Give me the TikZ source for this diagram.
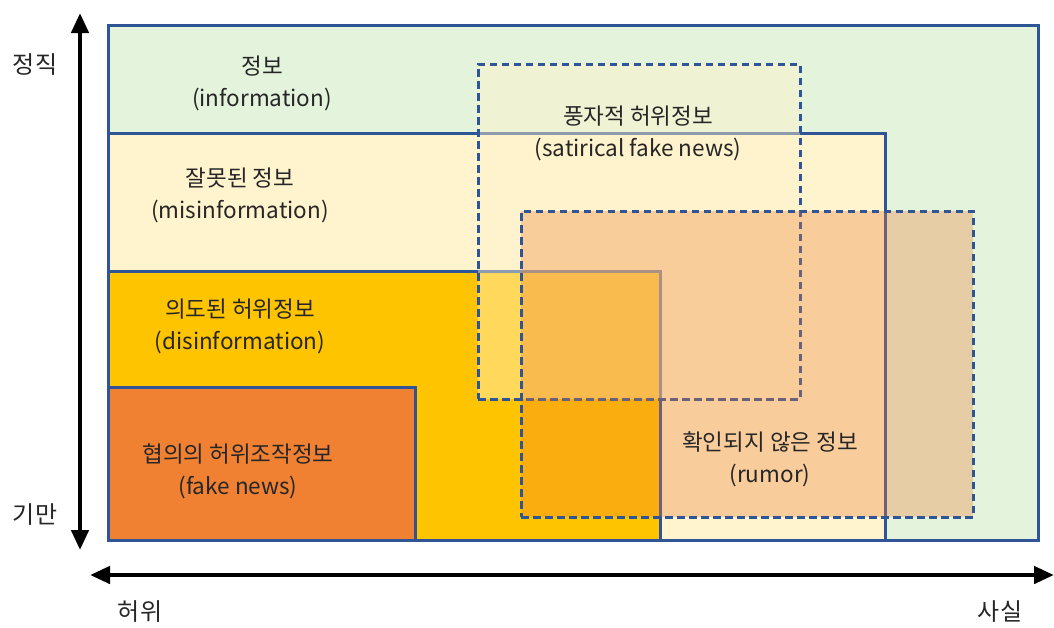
\documentclass[tikz,border=0pt]{standalone}
\usepackage{fontspec}
\setmainfont{Noto Sans CJK KR}
\usetikzlibrary{arrows.meta}
\definecolor{bordblue}{HTML}{2F5597}
\definecolor{infogreen}{HTML}{E4F3DC}
\definecolor{misyellow}{HTML}{FFF4CE}
\definecolor{disyellow}{HTML}{FFC400}
\definecolor{fakeorange}{HTML}{F08133}
\definecolor{satfill}{HTML}{FFF2CC}
\definecolor{rumfill}{HTML}{ED7D31}
\tikzset{
  region/.style={draw=bordblue, line width=3pt, anchor=north west, inner sep=0pt, outer sep=0pt},
  dregion/.style={region, dash pattern=on 7.5pt off 4.5pt},
  lbl/.style={align=center, font=\fontsize{22.5}{32}\selectfont, text=black!85},
  axislbl/.style={font=\fontsize{24}{26}\selectfont, text=black!85},
  axis/.style={line width=4.5pt, {Triangle[length=20pt,width=17pt]}-{Triangle[length=20pt,width=17pt]}}
}
\begin{document}
\begin{tikzpicture}[x=1pt,y=-1pt]
\useasboundingbox (0,0) rectangle (1054,627);
% regions
\node[region, fill=infogreen, minimum width=930pt, minimum height=515pt] (info) at (108,25) {};
\node[region, fill=misyellow, minimum width=777pt, minimum height=407pt] (mis) at (108,133) {};
\node[region, fill=disyellow, minimum width=552pt, minimum height=269pt] (dis) at (108,271) {};
\node[region, fill=fakeorange, minimum width=307pt, minimum height=153pt] (fake) at (108,387) {};
\node[dregion, fill=satfill, fill opacity=0.45, minimum width=322pt, minimum height=335pt] (sat) at (478,64) {};
\node[dregion, fill=rumfill, fill opacity=0.32, minimum width=452pt, minimum height=306pt] (rum) at (521,211) {};
% labels
\node[lbl] (tinfo) at (262,83) {정보\\(information)};
\node[lbl] (tmis) at (240,195) {잘못된 정보\\(misinformation)};
\node[lbl] (tdis) at (240,326) {의도된 허위정보\\(disinformation)};
\node[lbl] (tfake) at (238,471) {협의의 허위조작정보\\(fake news)};
\node[lbl] (tsat) at (638,133) {풍자적 허위정보\\(satirical fake news)};
\node[lbl] (trum) at (770,459) {확인되지 않은 정보\\(rumor)};
% axes
\coordinate (vtop) at (80,13);
\coordinate (vbot) at (80,550);
\draw[axis] (vbot) -- (vtop);
\coordinate (hl) at (90,575);
\coordinate (hr) at (1054,575);
\draw[axis] (hl) -- (hr);
\node[axislbl] (honest) at (35,65) {정직};
\node[axislbl] (deceit) at (35,515) {기만};
\node[axislbl] (false) at (140,612) {허위};
\node[axislbl] (fact) at (1000,612) {사실};
\end{tikzpicture}
\end{document}
